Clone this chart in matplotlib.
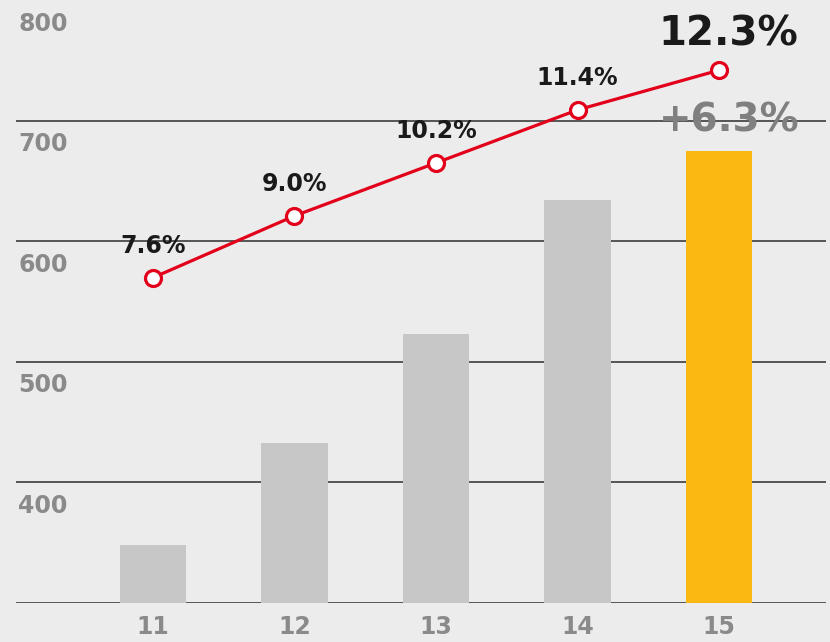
import matplotlib.pyplot as plt
import numpy as np

# chart data
years = ["11", "12", "13", "14", "15"]
bar_values = [348, 433, 523, 634, 675]
margin_pct = [7.6, 9.0, 10.2, 11.4, 12.3]
y_labels = [400, 500, 600, 700, 800]
growth_label = "+6.3%"

bg = "#ececec"
gray_bar = "#c6c7c6"
yellow_bar = "#fbb813"
red = "#e2001a"
label_gray = "#8a8a8a"

fig = plt.figure(figsize=(8.3, 6.42), dpi=100, facecolor=bg)
ax = fig.add_axes([16 / 830, 1 - 603 / 642, 810 / 830, 603 / 642])
ax.set_facecolor(bg)

x = np.arange(len(years))
colors = [gray_bar] * (len(years) - 1) + [yellow_bar]
ax.bar(x, bar_values, width=0.47, color=colors, zorder=2)

ax.set_xlim(-0.968, 4.756)
ax.set_ylim(300, 800)

# horizontal grid lines
ax.set_yticks([300, 400, 500, 600, 700])
ax.yaxis.grid(True, color="#4a4a4a", linewidth=1.3, zorder=1)
ax.set_axisbelow(True)
ax.tick_params(axis="y", length=0, labelleft=False)
for v in y_labels:
    ax.annotate(str(v), xy=(0.003, v), xycoords=("axes fraction", "data"),
                xytext=(0, -17), textcoords="offset points",
                ha="left", va="center", fontsize=17, fontweight="bold",
                color=label_gray)

ax.set_xticks(x, years)
ax.tick_params(axis="x", length=0, pad=9, labelsize=17, labelcolor=label_gray)
for lbl in ax.get_xticklabels():
    lbl.set_fontweight("bold")

for s in ax.spines.values():
    s.set_visible(False)

# margin line on a hidden second axis
ax2 = ax.twinx()
ax2.set_ylim(0.23, 13.89)
ax2.axis("off")
ax2.plot(x, margin_pct, color=red, linewidth=2.3, marker="o", markersize=11.5,
         markerfacecolor="white", markeredgecolor=red, markeredgewidth=2.3,
         zorder=4)
for xi, p in zip(x[:-1], margin_pct[:-1]):
    ax2.annotate(f"{p:.1f}%", xy=(xi, p), xytext=(0, 23),
                 textcoords="offset points", ha="center", va="center",
                 fontsize=17, fontweight="bold", color="#1a1a1a")
ax2.annotate(f"{margin_pct[-1]:.1f}%", xy=(x[-1], margin_pct[-1]),
             xytext=(7, 26), textcoords="offset points", ha="center",
             va="center", fontsize=29, fontweight="bold", color="#1a1a1a")
ax.annotate(growth_label, xy=(x[-1], bar_values[-1]), xytext=(7, 22),
            textcoords="offset points", ha="center", va="center",
            fontsize=28, fontweight="bold", color="#808080", zorder=5)

fig.savefig("out.png", dpi=100, facecolor=bg)
